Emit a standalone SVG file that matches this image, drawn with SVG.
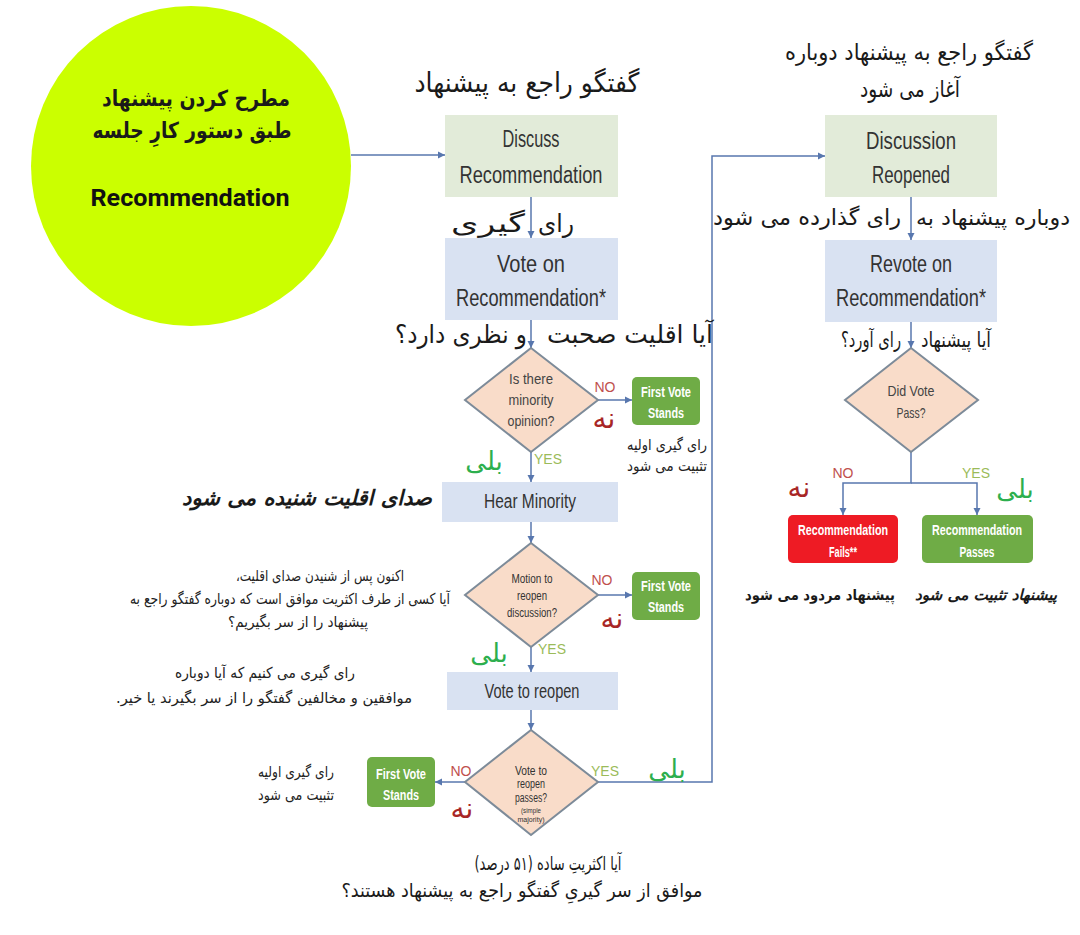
<svg xmlns="http://www.w3.org/2000/svg" width="1080" height="935" viewBox="0 0 1080 935">
<defs>
<marker id="ah" markerUnits="userSpaceOnUse" markerWidth="8" markerHeight="8" refX="7" refY="4" orient="auto">
<path d="M0,0.5 L7,4 L0,7.5 z" fill="#5877AE"/>
</marker>
<style>
.ln{fill:none;stroke:#5877AE;stroke-width:1.5}
.gbox{fill:#E2EBD9}
.bbox{fill:#D9E2F2}
.dia{fill:#F9DCC9;stroke:#7D8B99;stroke-width:2}
.gbtn{fill:#6FAC46}
.rbtn{fill:#EE1B24}
.en{font-family:"Liberation Sans",Arial,sans-serif;fill:#333;text-anchor:middle}
.box{font-size:23px}
.dt{font-size:15px;fill:#444}
.wt{font-family:"Liberation Sans",Arial,sans-serif;fill:#fff;font-weight:bold;text-anchor:middle;font-size:14px}
.fa{font-family:"DejaVu Sans",sans-serif;direction:rtl;text-anchor:middle;fill:#1a1a1a}
.t1{font-size:27px}
.t2{font-size:23px}
.sm{font-size:15px;fill:#222}
.lb{font-family:"Liberation Sans",Arial,sans-serif;text-anchor:middle;font-size:14px}
.no{fill:#C0504D}
.yes{fill:#9BBB59}
.neh{fill:#A82626;font-size:28px}
.bale{fill:#2DAF4E;font-size:26px}
</style>
</defs>
<rect width="1080" height="935" fill="#ffffff"/>

<g id="start">
<circle cx="191" cy="166" r="160" fill="#CBFF00"/>
<text class="fa" x="196" y="106" font-size="22" font-weight="bold" textLength="188" lengthAdjust="spacingAndGlyphs">مطرح کردن پیشنهاد</text>
<text class="fa" x="192" y="138" font-size="22" font-weight="bold" textLength="199" lengthAdjust="spacingAndGlyphs">طبق دستور کارِ جلسه</text>
<text x="190" y="206" font-family="Roboto, 'Liberation Sans', sans-serif" font-weight="bold" font-size="23" text-anchor="middle" fill="#111" textLength="199" lengthAdjust="spacingAndGlyphs">Recommendation</text>
</g>

<g id="connectors">
<line class="ln" x1="351" y1="155" x2="445" y2="155" marker-end="url(#ah)"/>
<line class="ln" x1="531" y1="197" x2="531" y2="238" marker-end="url(#ah)"/>
<line class="ln" x1="531" y1="320" x2="531" y2="348" marker-end="url(#ah)"/>
<line class="ln" x1="598" y1="400" x2="632" y2="400" marker-end="url(#ah)"/>
<line class="ln" x1="531" y1="452" x2="531" y2="482" marker-end="url(#ah)"/>
<line class="ln" x1="531" y1="522" x2="531" y2="543" marker-end="url(#ah)"/>
<line class="ln" x1="598" y1="595" x2="632" y2="595" marker-end="url(#ah)"/>
<line class="ln" x1="531" y1="647" x2="531" y2="672" marker-end="url(#ah)"/>
<line class="ln" x1="531" y1="710" x2="531" y2="730" marker-end="url(#ah)"/>
<line class="ln" x1="465" y1="782" x2="435" y2="782" marker-end="url(#ah)"/>
<polyline class="ln" points="598,782 712,782 712,156 825,156" marker-end="url(#ah)"/>
<line class="ln" x1="911" y1="197" x2="911" y2="240" marker-end="url(#ah)"/>
<line class="ln" x1="911" y1="322" x2="911" y2="348" marker-end="url(#ah)"/>
<polyline class="ln" points="911,452 911,483 843,483 843,515" marker-end="url(#ah)"/>
<polyline class="ln" points="911,483 977,483 977,515" marker-end="url(#ah)"/>
</g>

<g id="discuss">
<text class="fa t1" x="527" y="92" textLength="225" lengthAdjust="spacingAndGlyphs">گفتگو راجع به پیشنهاد</text>
<rect class="gbox" x="445" y="115" width="173" height="82"/>
<text class="en box" x="531" y="147" textLength="57" lengthAdjust="spacingAndGlyphs">Discuss</text>
<text class="en box" x="531" y="183" textLength="143" lengthAdjust="spacingAndGlyphs">Recommendation</text>
</g>

<g id="label-vote">
<text class="fa" x="556" y="232" font-size="25" textLength="36" lengthAdjust="spacingAndGlyphs">رای</text>
<text class="fa" x="488" y="232" font-size="25" textLength="74" lengthAdjust="spacingAndGlyphs">گیری</text>
</g>

<g id="vote">
<rect class="bbox" x="445" y="238" width="173" height="82"/>
<text class="en box" x="531" y="272" textLength="68" lengthAdjust="spacingAndGlyphs">Vote on</text>
<text class="en box" x="531" y="306" textLength="150" lengthAdjust="spacingAndGlyphs">Recommendation*</text>
</g>

<g id="label-minority">
<text class="fa" x="630" y="343" font-size="25" textLength="166" lengthAdjust="spacingAndGlyphs">آیا اقلیت صحبت</text>
<text class="fa" x="461" y="343" font-size="25" textLength="132" lengthAdjust="spacingAndGlyphs">و نظری دارد؟</text>
</g>

<g id="minority-decision">
<polygon class="dia" points="531,348 598,400 531,452 465,400"/>
<text class="en dt" x="531" y="384" textLength="44" lengthAdjust="spacingAndGlyphs">Is there</text>
<text class="en dt" x="531" y="405" textLength="45" lengthAdjust="spacingAndGlyphs">minority</text>
<text class="en dt" x="531" y="426" textLength="47" lengthAdjust="spacingAndGlyphs">opinion?</text>
<text class="lb no" x="605" y="392">NO</text>
<text class="fa neh" x="604" y="428">نه</text>
<text class="lb yes" x="548" y="464">YES</text>
<text class="fa bale" x="484" y="470">بلی</text>
</g>

<g id="first-vote-1">
<rect class="gbtn" x="632" y="377" width="68" height="48" rx="5"/>
<text class="wt" x="666" y="397" textLength="50" lengthAdjust="spacingAndGlyphs">First Vote</text>
<text class="wt" x="666" y="418" textLength="36" lengthAdjust="spacingAndGlyphs">Stands</text>
<text class="fa sm" x="667" y="450" textLength="80" lengthAdjust="spacingAndGlyphs">رای گیری اولیه</text>
<text class="fa sm" x="667" y="471" textLength="80" lengthAdjust="spacingAndGlyphs">تثبیت می شود</text>
</g>

<g id="hear-minority">
<rect class="bbox" x="442" y="482" width="176" height="40"/>
<text class="en" x="530" y="508" font-size="20" textLength="92" lengthAdjust="spacingAndGlyphs">Hear Minority</text>
<text class="fa" x="307" y="505" font-size="21" font-weight="bold" font-style="italic" textLength="250" lengthAdjust="spacingAndGlyphs">صدای اقلیت شنیده می شود</text>
</g>

<g id="note-motion">
<text class="fa sm" x="320" y="581" textLength="168" lengthAdjust="spacingAndGlyphs">اکنون پس از شنیدن صدای اقلیت،</text>
<text class="fa sm" x="290" y="604" textLength="320" lengthAdjust="spacingAndGlyphs">آیا کسی از طرف اکثریت موافق است که دوباره گفتگو راجع به</text>
<text class="fa sm" x="298" y="627" textLength="140" lengthAdjust="spacingAndGlyphs">پیشنهاد را از سر بگیریم؟</text>
</g>

<g id="motion-decision">
<polygon class="dia" points="531,543 598,595 531,647 465,595"/>
<text class="en" x="532" y="583" font-size="13" fill="#444" textLength="41" lengthAdjust="spacingAndGlyphs">Motion to</text>
<text class="en" x="532" y="600" font-size="13" fill="#444" textLength="30" lengthAdjust="spacingAndGlyphs">reopen</text>
<text class="en" x="532" y="617" font-size="13" fill="#444" textLength="50" lengthAdjust="spacingAndGlyphs">discussion?</text>
<text class="lb no" x="602" y="585">NO</text>
<text class="fa neh" x="612" y="628">نه</text>
<text class="lb yes" x="552" y="654">YES</text>
<text class="fa bale" x="489" y="662">بلی</text>
</g>

<g id="first-vote-2">
<rect class="gbtn" x="632" y="572" width="68" height="48" rx="5"/>
<text class="wt" x="666" y="591" textLength="50" lengthAdjust="spacingAndGlyphs">First Vote</text>
<text class="wt" x="666" y="612" textLength="36" lengthAdjust="spacingAndGlyphs">Stands</text>
</g>

<g id="note-vote-reopen">
<text class="fa sm" x="265" y="678" textLength="180" lengthAdjust="spacingAndGlyphs">رای گیری می کنیم که آیا دوباره</text>
<text class="fa sm" x="264" y="703" textLength="296" lengthAdjust="spacingAndGlyphs">موافقین و مخالفین گفتگو را از سر بگیرند یا خیر.</text>
</g>

<g id="vote-reopen">
<rect class="bbox" x="447" y="672" width="171" height="38"/>
<text class="en" x="532" y="698" font-size="21" textLength="95" lengthAdjust="spacingAndGlyphs">Vote to reopen</text>
</g>

<g id="reopen-decision">
<polygon class="dia" points="531,730 598,782 531,835 465,782"/>
<text class="en" x="531" y="775" font-size="12" fill="#444" textLength="32" lengthAdjust="spacingAndGlyphs">Vote to</text>
<text class="en" x="531" y="788" font-size="12" fill="#444" textLength="28" lengthAdjust="spacingAndGlyphs">reopen</text>
<text class="en" x="531" y="802" font-size="12" fill="#444" textLength="32" lengthAdjust="spacingAndGlyphs">passes?</text>
<text class="en" x="531" y="813" font-size="8" fill="#555" textLength="20" lengthAdjust="spacingAndGlyphs">(simple</text>
<text class="en" x="531" y="822" font-size="8" fill="#555" textLength="27" lengthAdjust="spacingAndGlyphs">majority)</text>
<text class="lb no" x="461" y="776">NO</text>
<text class="fa neh" x="462" y="818">نه</text>
<text class="lb yes" x="605" y="776">YES</text>
<text class="fa bale" x="667" y="778">بلی</text>
<text class="fa" x="548" y="870" font-size="19" fill="#222" textLength="147" lengthAdjust="spacingAndGlyphs">آیا اکثریتِ ساده (۵۱ درصد)</text>
<text class="fa" x="522" y="897" font-size="19" fill="#222" textLength="361" lengthAdjust="spacingAndGlyphs">موافق از سر گیریِ گفتگو راجع به پیشنهاد هستند؟</text>
</g>

<g id="first-vote-3">
<rect class="gbtn" x="367" y="757" width="68" height="50" rx="5"/>
<text class="wt" x="401" y="779" textLength="50" lengthAdjust="spacingAndGlyphs">First Vote</text>
<text class="wt" x="401" y="800" textLength="36" lengthAdjust="spacingAndGlyphs">Stands</text>
<text class="fa sm" x="296" y="777" textLength="76" lengthAdjust="spacingAndGlyphs">رای گیری اولیه</text>
<text class="fa sm" x="296" y="800" textLength="76" lengthAdjust="spacingAndGlyphs">تثبیت می شود</text>
</g>

<g id="discussion-reopened">
<text class="fa t2" x="909" y="60" textLength="248" lengthAdjust="spacingAndGlyphs">گفتگو راجع به پیشنهاد دوباره</text>
<text class="fa t2" x="910" y="97" textLength="100" lengthAdjust="spacingAndGlyphs">آغاز می شود</text>
<rect class="gbox" x="825" y="115" width="172" height="82"/>
<text class="en box" x="911" y="149" textLength="90" lengthAdjust="spacingAndGlyphs">Discussion</text>
<text class="en box" x="911" y="183" textLength="78" lengthAdjust="spacingAndGlyphs">Reopened</text>
</g>

<g id="label-revote">
<text class="fa" x="993" y="225" font-size="21" textLength="154" lengthAdjust="spacingAndGlyphs">دوباره پیشنهاد به</text>
<text class="fa" x="807" y="225" font-size="22" textLength="188" lengthAdjust="spacingAndGlyphs">رای گذارده می شود</text>
</g>

<g id="revote">
<rect class="bbox" x="825" y="240" width="172" height="82"/>
<text class="en box" x="911" y="272" textLength="82" lengthAdjust="spacingAndGlyphs">Revote on</text>
<text class="en box" x="911" y="306" textLength="150" lengthAdjust="spacingAndGlyphs">Recommendation*</text>
</g>

<g id="label-pass">
<text class="fa" x="956" y="347" font-size="21" textLength="70" lengthAdjust="spacingAndGlyphs">آیا پیشنهاد</text>
<text class="fa" x="871" y="347" font-size="21" textLength="60" lengthAdjust="spacingAndGlyphs">رای آورد؟</text>
</g>

<g id="pass-decision">
<polygon class="dia" points="911,348 978,400 911,452 845,400"/>
<text class="en dt" x="911" y="396" textLength="47" lengthAdjust="spacingAndGlyphs">Did Vote</text>
<text class="en dt" x="911" y="418" textLength="29" lengthAdjust="spacingAndGlyphs">Pass?</text>
<text class="lb no" x="843" y="478">NO</text>
<text class="lb yes" x="976" y="478">YES</text>
<text class="fa neh" x="799" y="497">نه</text>
<text class="fa bale" x="1015" y="498">بلی</text>
</g>

<g id="fails">
<rect class="rbtn" x="788" y="515" width="110" height="48" rx="5"/>
<text class="wt" x="843" y="535" font-size="13" textLength="90" lengthAdjust="spacingAndGlyphs">Recommendation</text>
<text class="wt" x="843" y="557" font-size="13" textLength="28" lengthAdjust="spacingAndGlyphs">Fails**</text>
<text class="fa" x="820" y="600" font-size="15" font-weight="bold" fill="#B0302A" textLength="150" lengthAdjust="spacingAndGlyphs">پیشنهاد مردود می شود</text>
</g>

<g id="passes">
<rect class="gbtn" x="922" y="515" width="111" height="48" rx="5"/>
<text class="wt" x="977" y="535" font-size="13" textLength="90" lengthAdjust="spacingAndGlyphs">Recommendation</text>
<text class="wt" x="977" y="557" font-size="13" textLength="35" lengthAdjust="spacingAndGlyphs">Passes</text>
<text class="fa" x="986" y="600" font-size="15" font-weight="bold" font-style="italic" fill="#1F7D8E" textLength="142" lengthAdjust="spacingAndGlyphs">پیشنهاد تثبیت می شود</text>
</g>
</svg>
